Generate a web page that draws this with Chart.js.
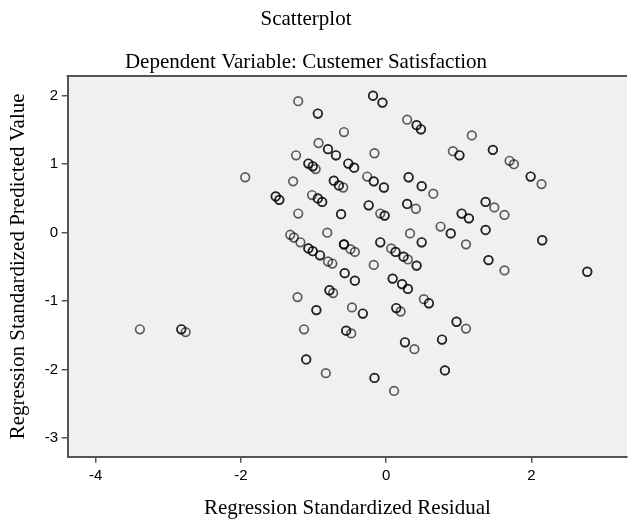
<!DOCTYPE html>
<html><head><meta charset="utf-8">
<script src="https://cdn.jsdelivr.net/npm/chart.js@4.4.1/dist/chart.umd.min.js"></script>
<style>html,body{margin:0;padding:0;background:#fff;overflow:hidden}</style>
</head><body>
<canvas id="c" width="633" height="521"></canvas>
<script>
// Regression standardized residual (x) and predicted value (y) per visible marker
const residual = [
  -1.94,-3.39,-2.82,-2.76,-1.21,-0.94,-0.18,-0.05,0.29,0.42,
  0.48,-0.58,1.18,-0.93,-0.80,-0.69,-0.16,-1.24,0.92,1.01,
  1.47,1.70,1.76,1.99,2.14,-1.07,-1.01,-0.97,-0.52,-0.44,
  -1.28,-0.26,-0.17,-0.03,0.31,0.49,0.65,-0.72,-0.65,-0.59,
  -1.52,-1.47,-1.02,-0.94,-0.88,-0.24,-0.08,-0.02,0.29,0.41,
  -1.21,-0.62,1.37,1.49,1.63,1.04,1.14,0.75,0.89,1.37,
  1.10,2.15,-0.81,-1.32,-1.27,-1.18,-1.07,-1.01,-0.91,-0.80,
  -0.74,-0.58,-0.49,-0.43,-0.08,0.33,0.49,0.07,0.13,0.24,
  0.30,0.42,-0.17,1.41,1.63,2.77,-0.57,-0.43,0.09,0.22,
  0.30,0.52,0.59,-1.22,-0.78,-0.73,-0.96,-0.47,-0.32,0.14,
  0.20,-1.13,-0.55,-0.48,0.26,0.39,0.97,1.10,0.77,0.81,
  -1.10,-0.83,-0.16,0.11
];
const predicted = [
  0.81,-1.41,-1.41,-1.45,1.92,1.74,2.00,1.90,1.65,1.57,
  1.51,1.47,1.42,1.31,1.22,1.13,1.16,1.13,1.19,1.13,
  1.21,1.05,1.00,0.82,0.71,1.01,0.97,0.93,1.01,0.95,
  0.75,0.82,0.75,0.66,0.81,0.68,0.57,0.76,0.69,0.66,
  0.53,0.48,0.55,0.50,0.45,0.40,0.28,0.25,0.42,0.35,
  0.28,0.27,0.45,0.37,0.26,0.28,0.21,0.09,-0.01,0.04,
  -0.17,-0.11,0.00,-0.03,-0.07,-0.14,-0.23,-0.27,-0.33,-0.42,
  -0.45,-0.17,-0.24,-0.28,-0.14,-0.01,-0.14,-0.23,-0.28,-0.35,
  -0.39,-0.48,-0.47,-0.40,-0.55,-0.57,-0.59,-0.70,-0.67,-0.75,
  -0.82,-0.97,-1.03,-0.94,-0.84,-0.88,-1.13,-1.09,-1.18,-1.10,
  -1.15,-1.41,-1.43,-1.47,-1.60,-1.70,-1.30,-1.40,-1.56,-2.01,
  -1.85,-2.05,-2.12,-2.31
];
// how many cases share each marker (overlapping circles look darker)
const overlap = [
  1,1,2,1,1,2,2,2,1,2,
  2,1,1,1,2,2,1,1,1,2,
  2,1,1,2,1,2,2,1,2,2,
  1,1,2,2,2,2,1,2,2,1,
  2,2,1,2,2,2,1,2,2,1,
  1,2,2,1,1,2,2,1,2,2,
  1,2,1,1,1,1,2,2,2,1,
  1,3,1,1,2,1,2,1,2,2,
  1,2,1,2,1,2,2,2,2,2,
  2,1,2,1,2,1,2,1,2,2,
  1,1,2,1,2,1,2,1,2,2,
  2,1,2,1
];
const xTicks = [-4, -2, 0, 2];
const yTicks = [-3, -2, -1, 0, 1, 2];

const points = [];
residual.forEach((x, i) => {
  for (let k = 0; k < overlap[i]; k++) points.push({x: x, y: predicted[i]});
});

const SERIF = "'Liberation Serif', 'Times New Roman', serif";
const SANS = "'Liberation Sans', Arial, sans-serif";
const AXIS = '#555555';

const frame = {
  id: 'frame',
  beforeDraw(chart) {
    const a = chart.chartArea, ctx = chart.ctx;
    ctx.save();
    ctx.fillStyle = '#f0f0f0';
    ctx.fillRect(a.left, a.top, a.right - a.left, a.bottom - a.top);
    ctx.restore();
  },
  afterDraw(chart) {
    const a = chart.chartArea, ctx = chart.ctx;
    ctx.save();
    ctx.strokeStyle = AXIS;
    ctx.lineWidth = 2;
    ctx.beginPath();
    ctx.moveTo(a.left - 1, a.top);
    ctx.lineTo(a.right, a.top);
    ctx.stroke();
    ctx.restore();
  }
};

new Chart(document.getElementById('c'), {
  type: 'scatter',
  data: {
    datasets: [{
      data: points,
      pointStyle: 'circle',
      pointRadius: 4.3,
      pointBorderWidth: 1.7,
      pointBorderColor: 'rgba(0,0,0,0.62)',
      pointBackgroundColor: 'rgba(0,0,0,0)'
    }]
  },
  options: {
    responsive: false,
    animation: false,
    events: [],
    layout: {padding: {left: -21, right: 0, top: 0, bottom: 0}},
    plugins: {
      legend: {display: false},
      tooltip: {enabled: false},
      title: {
        display: true, text: 'Scatterplot', color: '#000',
        font: {family: SERIF, size: 21, weight: 'normal', lineHeight: 1.2},
        padding: {top: 7, bottom: 9}
      },
      subtitle: {
        display: true, text: 'Dependent Variable: Custemer Satisfaction', color: '#000',
        font: {family: SERIF, size: 21, weight: 'normal', lineHeight: 1.2},
        padding: {top: 8.2, bottom: 1.4}
      }
    },
    scales: {
      x: {
        type: 'linear', position: 'bottom', min: -4.384, max: 3.317,
        afterBuildTicks: s => { s.ticks = xTicks.map(v => ({value: v})); },
        afterFit: s => { s.height = 64.3; },
        grid: {display: true, drawOnChartArea: false, drawTicks: true, tickLength: 6, color: AXIS, lineWidth: 1.5},
        border: {display: true, color: AXIS, width: 2},
        ticks: {color: '#000', font: {family: SANS, size: 15}, padding: 4, maxRotation: 0, autoSkip: false},
        title: {
          display: true, text: 'Regression Standardized Residual', color: '#000',
          font: {family: SERIF, size: 21, lineHeight: 1.2}, padding: {top: 0, bottom: 0}
        }
      },
      y: {
        type: 'linear', position: 'left', min: -3.270, max: 2.288,
        afterBuildTicks: s => { s.ticks = yTicks.map(v => ({value: v})); },
        afterFit: s => { s.width = 88.7; },
        grid: {display: true, drawOnChartArea: false, drawTicks: true, tickLength: 6, color: AXIS, lineWidth: 1.5},
        border: {display: true, color: AXIS, width: 2},
        ticks: {color: '#000', font: {family: SANS, size: 15}, padding: 3.5, autoSkip: false},
        title: {
          display: true, text: 'Regression Standardized Predicted Value', color: '#000',
          font: {family: SERIF, size: 21, lineHeight: 1.2}, padding: {top: 26.4, bottom: 0}
        }
      }
    }
  },
  plugins: [frame]
});
</script>
</body></html>
